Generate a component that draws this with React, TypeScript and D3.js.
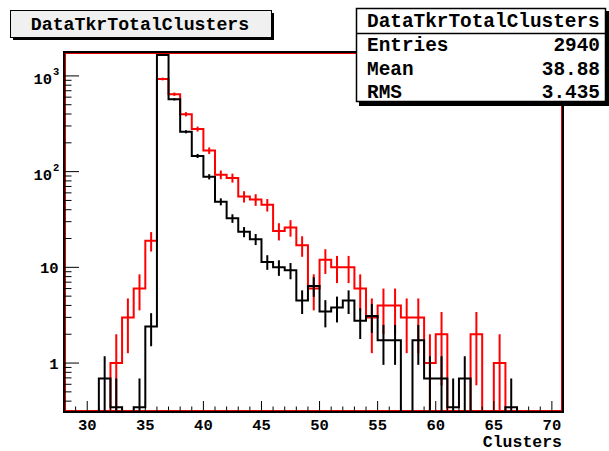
import React from "react";
import * as d3 from "d3";

// bins: lower edges 28..70, width 1
const binLow: number[] = d3.range(28, 71);
const blackValues: number[] = [
  0, 0, 0, 0.69, 0.345, 0, 0.345, 2.41, 1652, 569, 261, 146, 88.5, 48.5, 32.5, 23.5, 19.7,
  11.4, 10.0, 9.3, 4.5, 6.4, 3.45, 3.8, 4.5, 2.76, 3.1, 1.73, 1.73, 0, 1.73, 0.69, 0.69,
  0.345, 0.69, 0, 0, 0, 0.345, 0, 0, 0, 0,
];
const redValues: number[] = [
  0, 0, 0, 0, 1, 3, 6, 19, 929, 645, 398, 279, 166, 93, 86, 55, 51, 45, 24, 26, 17, 6, 12,
  10, 10, 6, 3, 4, 4, 3, 3, 1, 2, 0, 0, 2, 0, 1, 0, 0, 0, 0, 0,
];
const blackWeight = 0.345;
const redWeight = 1;
const xTicks: number[] = [30, 35, 40, 45, 50, 55, 60, 65, 70];
const yMajor: number[] = [1, 10, 100, 1000];
const statsLabels: string[] = ["Entries", "Mean", "RMS"];
const statsValues: string[] = ["2940", "38.88", "3.435"];
const histName = "DataTkrTotalClusters";
const xTitle = "Clusters";

const W = 609;
const H = 451;
const L = 64, R = 563, T = 52, B = 412;
const FONT = "'Liberation Mono', 'Courier New', monospace";

export default function App() {
  const x = d3.scaleLinear().domain([28, 71]).range([L, R + 0.5]);
  const yMin = 0.308, yMax = 1778;
  const y = d3.scaleLog().domain([yMin, yMax]).range([B, T]);
  const yc = (v: number) => (v <= yMin ? B : v >= yMax ? T : y(v));

  const stepPath = (vals: number[]) => {
    let d = "";
    vals.forEach((v, i) => {
      const x0 = x(binLow[i]);
      const x1 = x(binLow[i] + 1);
      const yy = yc(v);
      d += (i === 0 ? `M${x0},${yy}` : `L${x0},${yy}`) + `L${x1},${yy}`;
    });
    return d;
  };
  const errBars = (vals: number[], w: number, color: string) =>
    vals.map((v, i) => {
      if (v <= 0) return null;
      const e = Math.sqrt(v * w);
      const xc = x(binLow[i] + 0.5);
      return (
        <line key={i} x1={xc} x2={xc} y1={yc(v + e)} y2={yc(v - e)} stroke={color} strokeWidth={2} />
      );
    });

  const xMinor = d3.range(29, 71).filter((t) => t % 5 !== 0);
  const yMinor: number[] = [];
  for (const dec of [0.1, 1, 10, 100, 1000]) {
    for (let k = 2; k <= 9; k++) {
      const v = k * dec;
      if (v > yMin && v < yMax) yMinor.push(v);
    }
  }

  return (
    <svg width={W} height={H} style={{ position: "absolute", left: 0, top: 0, background: "#fff" }}>
      <rect x={0} y={0} width={W} height={H} fill="#fff" />
      <rect x={L + 1.5} y={T + 1.5} width={R - L - 3} height={B - T - 3} fill="none" stroke="#e00000" strokeWidth={1} />
      <path d={stepPath(redValues)} fill="none" stroke="#ff0000" strokeWidth={2} />
      {errBars(redValues, redWeight, "#ff0000")}
      <path d={stepPath(blackValues)} fill="none" stroke="#000" strokeWidth={2} />
      {errBars(blackValues, blackWeight, "#000")}
      <rect x={L} y={T} width={R - L} height={B - T} fill="none" stroke="#000" strokeWidth={2} />
      {xTicks.map((t) => (
        <g key={"xt" + t}>
          <line x1={x(t)} x2={x(t)} y1={B} y2={B - 11} stroke="#000" strokeWidth={1} />
          <text x={x(t)} y={429.5} textAnchor="middle" fontFamily={FONT} fontWeight="bold" fontSize={15.5}>
            {t}
          </text>
        </g>
      ))}
      {xMinor.map((t) => (
        <line key={"xm" + t} x1={x(t)} x2={x(t)} y1={B} y2={B - 5.5} stroke="#000" strokeWidth={1} />
      ))}
      <text x={562} y={447} textAnchor="end" fontFamily={FONT} fontWeight="bold" fontSize={16.5}>
        {xTitle}
      </text>
      {yMajor.map((t) => (
        <g key={"yt" + t}>
          <line x1={L} x2={L + 15} y1={y(t)} y2={y(t)} stroke="#000" strokeWidth={1} />
          {t >= 100 ? (
            <text x={52} y={y(t) + 8} textAnchor="end" fontFamily={FONT} fontWeight="bold" fontSize={15.5}>
              10
              <tspan x={53} dy={-9} textAnchor="start" fontSize={10.5}>
                {Math.round(Math.log10(t))}
              </tspan>
            </text>
          ) : (
            <text x={58.5} y={y(t) + 6} textAnchor="end" fontFamily={FONT} fontWeight="bold" fontSize={15.5}>
              {t}
            </text>
          )}
        </g>
      ))}
      {yMinor.map((t) => (
        <line key={"ym" + t} x1={L} x2={L + 7.5} y1={y(t)} y2={y(t)} stroke="#000" strokeWidth={1} />
      ))}
      <rect x={13} y={13} width={261} height={27} fill="#000" />
      <rect x={10.5} y={10.5} width={261} height={27} fill="#f0f0f0" stroke="#000" strokeWidth={1} />
      <text x={140} y={30} textAnchor="middle" fontFamily={FONT} fontWeight="bold" fontSize={18.2}>
        {histName}
      </text>
      <rect x={359} y={11} width={252} height={95} fill="#000" />
      <rect x={356.5} y={8.5} width={249} height={93} fill="#fff" stroke="#000" strokeWidth={1.5} />
      <line x1={356.5} x2={605.5} y1={33.5} y2={33.5} stroke="#000" strokeWidth={1.5} />
      <text x={367} y={27} fontFamily={FONT} fontWeight="bold" fontSize={19.4}>
        {histName}
      </text>
      {statsLabels.map((s, i) => (
        <g key={s}>
          <text x={367} y={51 + i * 23.5} fontFamily={FONT} fontWeight="bold" fontSize={19.4}>
            {s}
          </text>
          <text x={600} y={51 + i * 23.5} textAnchor="end" fontFamily={FONT} fontWeight="bold" fontSize={19.4}>
            {statsValues[i]}
          </text>
        </g>
      ))}
    </svg>
  );
}
